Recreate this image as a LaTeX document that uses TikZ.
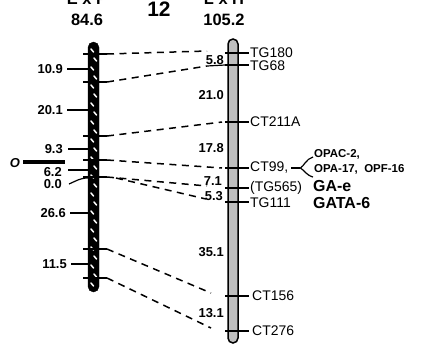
\documentclass[tikz,border=0pt]{standalone}
\usepackage{fontspec}
\setmainfont{Liberation Sans}
\begin{document}
\begin{tikzpicture}[x=1bp,y=-1bp,
  title/.style={font=\bfseries\fontsize{16.5}{18}\selectfont, inner sep=0pt, anchor=base},
  num/.style={font=\bfseries\fontsize{13}{15}\selectfont, inner sep=0pt},
  mk/.style={font=\fontsize{14}{16}\selectfont, inner sep=0pt, anchor=west},
  big/.style={font=\bfseries\fontsize{16}{18}\selectfont, inner sep=0pt, anchor=west},
  small/.style={font=\bfseries\fontsize{11.5}{13}\selectfont, inner sep=0pt, anchor=west},
  link/.style={dash pattern=on 7bp off 5.5bp, line width=1.5bp},
  tick/.style={line width=1.2bp},
  chromL/.style={fill=black, draw=black, minimum width=11bp, rounded corners=5.5bp, inner sep=0pt},
  chromR/.style={fill=black!25, draw=black, line width=1.5bp, minimum width=10bp, rounded corners=5bp, inner sep=0pt},
]
\useasboundingbox (0,0) rectangle (438,357);
\clip (0,0) rectangle (438,357);

% headers
\node[title] (h1) at (87,4) {E x P};
\node[title] (h1n) at (87,25) {84.6};
\node[font=\bfseries\fontsize{21}{23}\selectfont, anchor=base, inner sep=0pt] (chr) at (159,16) {12};
\node[title] (h2) at (224,4) {L x H};
\node[title] (h2n) at (224,25) {105.2};

% left chromosome
\node[chromL, minimum height=250bp] (L) at (93.5,167) {};
\foreach \i in {0,...,26} {
  \pgfmathsetmacro{\yy}{49+9*\i}
  \pgfmathsetmacro{\xx}{mod(\i,2)==0 ? 91 : 94}
  \draw[white, line width=1.5bp, line cap=round] (\xx,\yy) -- ++(2.5,3);
}
% right chromosome
\node[chromR, minimum height=304bp] (R) at (233,191) {};

% left markers
\foreach \n/\y in {1/54,2/82,3/136,4/160,5/177,6/249,7/278} {
  \coordinate (la\n) at (83,\y);
  \coordinate (lb\n) at (107,\y);
  \draw[tick] (la\n) -- (lb\n);
}
% right markers
\foreach \n/\y in {1/53,2/65,3/122,4/168,5/188,6/202,7/296,8/331} {
  \coordinate (ra\n) at (225,\y);
  \coordinate (rb\n) at (249,\y);
  \draw[tick] (ra\n) -- (rb\n);
}

% dashed links
\coordinate (e1) at (207,51);
\coordinate (e2) at (207,66);
\coordinate (e3) at (222,122);
\coordinate (e4) at (222,168);
\coordinate (e5) at (207,186);
\coordinate (s6) at (116,178);
\coordinate (e6) at (206,199);
\coordinate (e7) at (211,293);
\coordinate (e8) at (211,328);
\draw[link] (lb1) -- (e1);
\draw[link] (lb2) -- (e2);
\draw[link] (lb3) -- (e3);
\draw[link] (lb4) -- (e4);
\draw[link] (lb5) -- (e5);
\draw[link] (s6) -- (e6);
\draw[link] (lb6) -- (e7);
\draw[link] (lb7) -- (e8);
\draw[tick] (e2) -- (ra2);

% left interval labels
\node[num, anchor=east] (n1) at (63,69) {10.9};
\node[num, anchor=east] (n2) at (63,110) {20.1};
\node[num, anchor=east] (n3) at (63,149) {9.3};
\node[num, anchor=east] (n4) at (62,172) {6.2};
\node[num, anchor=east] (n5) at (62,184) {0.0};
\node[num, anchor=east] (n6) at (66,213) {26.6};
\node[num, anchor=east] (n7) at (67,264) {11.5};
\draw[tick] (n1.east) ++(4,0) -- (88,69);
\draw[tick] (n2.east) ++(4,0) -- (88,110);
\draw[tick] (n3.east) ++(5,0) -- (88,149);
\draw[tick] (n4.east) ++(6,-2) -- (88,170);
\draw[tick] (n5.east) ++(7,0) .. controls (76,181) and (80,178) .. (88,178);
\draw[tick] (n6.east) ++(4,0) -- (88,213);
\draw[tick] (n7.east) ++(4,0) -- (88,264);

% O bar
\node[font=\bfseries\itshape\fontsize{13}{15}\selectfont, inner sep=0pt] (O) at (15,163) {O};
\draw[line width=3.5bp] (23,162) -- (65,162);

% right interval labels
\node[num, anchor=east] (m1) at (224,60) {5.8};
\node[num, anchor=east] (m2) at (224,95) {21.0};
\node[num, anchor=east] (m3) at (224,148) {17.8};
\node[num, anchor=east] (m4) at (222,181) {7.1};
\node[num, anchor=east] (m5) at (223,196) {5.3};
\node[num, anchor=east] (m6) at (224,252) {35.1};
\node[num, anchor=east] (m7) at (224,313) {13.1};

% marker names
\node[mk] (TG180) at (250,53) {TG180};
\node[mk] (TG68) at (250,66) {TG68};
\node[mk] (CT211A) at (250,122) {CT211A};
\node[mk] (CT99) at (250,168) {CT99,};
\node[mk] (TG565) at (250,188) {(TG565)};
\node[mk] (TG111) at (250,203) {TG111};
\node[mk] (CT156) at (252,296) {CT156};
\node[mk] (CT276) at (252,331) {CT276};
\node[big] (GAe) at (313,186) {GA-e};
\node[big] (GATA6) at (313,203) {GATA-6};
\node[small] (OPAC) at (314,154) {OPAC-2,};
\node[small] (OPA) at (314,169) {OPA-17,\ \ OPF-16};
\draw[tick] (CT99.east) ++(3,0) coordinate (bk) -- ++(9,0) coordinate (bm);
\draw[tick] (313,157) .. controls (306,159) and (304,166) .. (bm) .. controls (304,170) and (306,175) .. (313,177);
\end{tikzpicture}
\end{document}
